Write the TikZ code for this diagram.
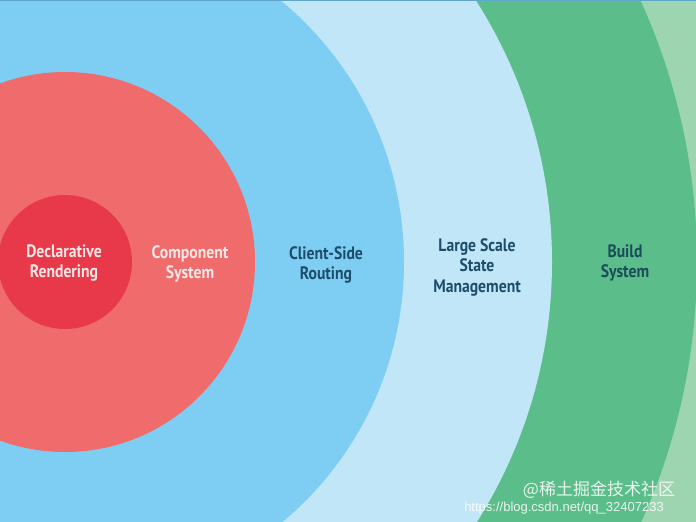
\documentclass[tikz,border=0pt]{standalone}
\usepackage{fontspec}
\setmainfont{PT Sans}[FakeStretch=0.87]
\newfontfamily\cjkfont{Noto Sans CJK SC}
\newfontfamily\urlfont{Liberation Sans}
\usetikzlibrary{positioning}
\definecolor{coreRed}{HTML}{E8394A}
\definecolor{compRed}{HTML}{F06B6B}
\definecolor{routeBlue}{HTML}{7ECEF4}
\definecolor{stateBlue}{HTML}{C1E6F8}
\definecolor{buildGreen}{HTML}{5BBE8A}
\definecolor{outerGreen}{HTML}{9DD5B1}
\definecolor{redText}{HTML}{FCE6E6}
\definecolor{blueText}{HTML}{1E4D6B}
\definecolor{greenText}{HTML}{1B4C5A}
\definecolor{frameBlue}{HTML}{5FA6CF}

\begin{document}
\begin{tikzpicture}[x=1pt,y=-1pt,
		layer/.style={align=center,font=\bfseries\fontsize{18}{20.5}\selectfont},
		stamp/.style={text=white,opacity=0.85,inner sep=0pt}]
			\useasboundingbox (0,0) rectangle (696,522);
			\coordinate (core) at (65,262);
			\begin{scope}
				\clip (0,0) rectangle (696,522);
				\fill[outerGreen] (0,0) rectangle (696,522);
				\fill[buildGreen] (core) circle (632pt);
				\fill[stateBlue] (core) circle (487pt);
				\fill[routeBlue] (core) circle (339pt);
				\fill[compRed] (core) circle (190pt);
				\fill[coreRed] (core) circle (67pt);
			\end{scope}
			\draw[frameBlue,line width=1pt] (0,0.5)--(696,0.5);
			\node[layer,text=redText] (declarative) at (64,263) {Declarative\\Rendering};
			\node[layer,text=redText] (component) at (190,264) {Component\\System};
			\node[layer,text=blueText] (routing) at (326,265) {Client-Side\\Routing};
			\node[layer,text=blueText] (state) at (477,267) {Large Scale\\State\\Management};
			\node[layer,text=greenText] (build) at (625,263) {Build\\System};
			\node[stamp,font=\urlfont\fontsize{13}{13}\selectfont] (url) at (564,508) {https://blog.csdn.net/qq\_32407233};
			\node[stamp,font=\cjkfont\fontsize{17}{17}\selectfont] (mark) at (599,490) {@稀土掘金技术社区};
		\end{tikzpicture}
\end{document}
